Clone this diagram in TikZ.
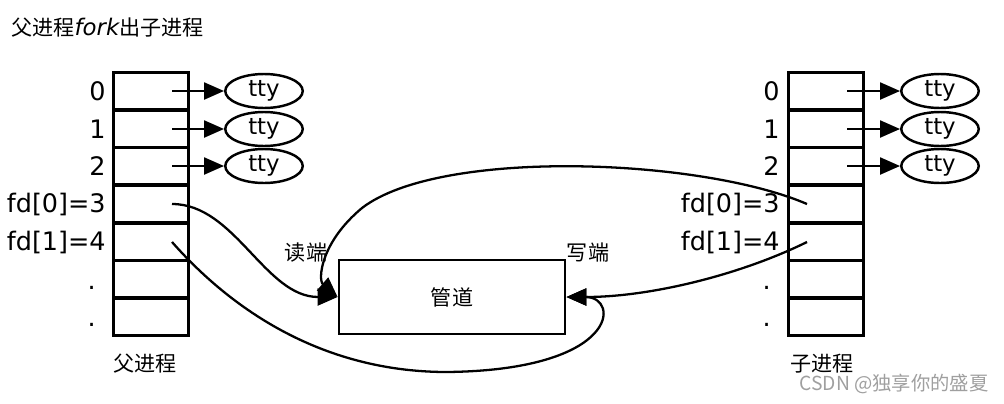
\documentclass[tikz,border=0pt]{standalone}
\usepackage{fontspec}
\setmainfont{DejaVu Sans}
\newfontfamily\cjk{Noto Sans CJK SC}
\usetikzlibrary{shapes.geometric, arrows.meta}

\begin{document}
\begin{tikzpicture}[x=0.02cm, y=-0.02cm,
    cell/.style={draw, rectangle, line width=1.6pt, minimum width=1.5cm, minimum height=0.754cm, inner sep=0pt},
    tty/.style={draw, ellipse, line width=1.4pt, minimum width=1.55cm, minimum height=0.68cm, inner sep=0pt, font=\fontsize{13}{14}\selectfont},
    num/.style={anchor=east, inner sep=0pt, font=\fontsize{14.5}{16}\selectfont},
    zh/.style={inner sep=0pt, font=\fontsize{12}{14}\selectfont\cjk},
    arr/.style={-{Triangle[length=0.4cm, width=0.34cm]}, line width=1.3pt}]
    \useasboundingbox (0,0) rectangle (1004,403);
    \node[anchor=west, inner sep=0pt, font=\fontsize{12}{14}\selectfont] (title) at (11,28) {{\cjk 父进程}{\fontsize{13}{14}\selectfont\itshape fork}{\cjk 出子进程}};
    % parent table
    \node[cell] (p0) at (151,91) {};
    \node[cell] (p1) at (151,129) {};
    \node[cell] (p2) at (151,166) {};
    \node[cell] (p3) at (151,204) {};
    \node[cell] (p4) at (151,242) {};
    \node[cell] (p5) at (151,279) {};
    \node[cell] (p6) at (151,317) {};
    \node[num] (pl0) at (106,91) {0};
    \node[num] (pl1) at (106,129) {1};
    \node[num] (pl2) at (106,166) {2};
    \node[num] (pl3) at (106,204) {fd[0]=3};
    \node[num] (pl4) at (106,242) {fd[1]=4};
    \node[num] (pl5) at (96,288) {.};
    \node[num] (pl6) at (96,325) {.};
    \node[tty] (pt0) at (264,91) {tty};
    \node[tty] (pt1) at (264,129) {tty};
    \node[tty] (pt2) at (264,166) {tty};
    \coordinate (ps0) at (172,91);
    \coordinate (ps1) at (172,129);
    \coordinate (ps2) at (172,166);
    \coordinate (ps3) at (172,204);
    \coordinate (ps4) at (172,242);
    \node[zh] (pname) at (145,364) {父进程};
    % child table
    \node[cell] (r0) at (826,91) {};
    \node[cell] (r1) at (826,129) {};
    \node[cell] (r2) at (826,166) {};
    \node[cell] (r3) at (826,204) {};
    \node[cell] (r4) at (826,242) {};
    \node[cell] (r5) at (826,279) {};
    \node[cell] (r6) at (826,317) {};
    \node[num] (rl0) at (780,91) {0};
    \node[num] (rl1) at (780,129) {1};
    \node[num] (rl2) at (780,166) {2};
    \node[num] (rl3) at (780,204) {fd[0]=3};
    \node[num] (rl4) at (780,242) {fd[1]=4};
    \node[num] (rl5) at (771,288) {.};
    \node[num] (rl6) at (771,325) {.};
    \node[tty] (rt0) at (940,91) {tty};
    \node[tty] (rt1) at (940,129) {tty};
    \node[tty] (rt2) at (940,166) {tty};
    \coordinate (rs0) at (847,91);
    \coordinate (rs1) at (847,129);
    \coordinate (rs2) at (847,166);
    \coordinate (rs3) at (807,204);
    \coordinate (rs4) at (807,242);
    \node[zh] (rname) at (822,364) {子进程};
    % pipe
    \node[draw, rectangle, line width=1.6pt, minimum width=4.52cm, minimum height=1.48cm, zh] (pipe) at (452,297) {管道};
    \node[zh] (rd) at (306,253) {读端};
    \node[zh] (wr) at (588,253) {写端};
    \draw[arr] (ps0) -- (pt0);
    \draw[arr] (ps1) -- (pt1);
    \draw[arr] (ps2) -- (pt2);
    \draw[arr] (rs0) -- (rt0);
    \draw[arr] (rs1) -- (rt1);
    \draw[arr] (rs2) -- (rt2);
    \draw[arr] (ps3) .. controls (235,204) and (265,297) .. (pipe.west);
    \draw[arr] (ps4) .. controls (210,285) and (300,372) .. (447,372) .. controls (620,370) and (620,297) .. (pipe.east);
    \draw[arr] (rs4) .. controls (740,275) and (650,297) .. (pipe.east);
    \draw[arr] (rs3) .. controls (700,158) and (440,148) .. (362,208) .. controls (320,243) and (318,280) .. (pipe.west);
    \node[inner sep=0pt, text=gray!75, font=\fontsize{11}{13}\selectfont\cjk] (wm) at (894,384) {CSDN @独享你的盛夏};
\end{tikzpicture}
\end{document}
